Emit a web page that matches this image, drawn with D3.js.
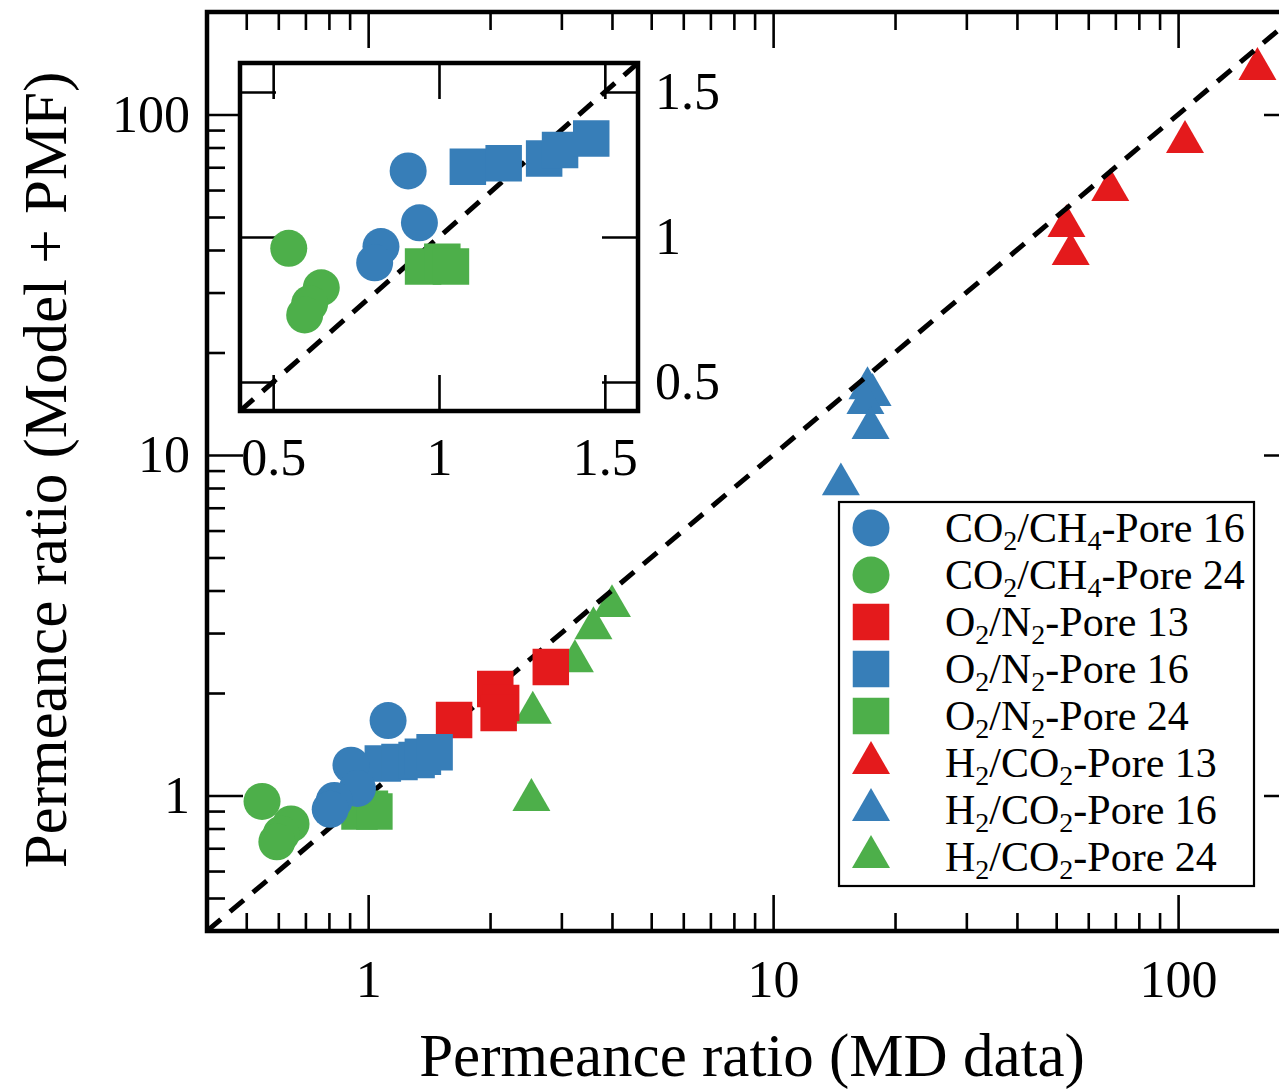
<!DOCTYPE html>
<html><head><meta charset="utf-8">
<script src="https://cdn.jsdelivr.net/npm/d3@7"></script>
<style>html,body{margin:0;padding:0;background:#fff;overflow:hidden}</style>
</head><body>
<svg id="chart" width="1279" height="1090"></svg>
<script>
// ---------- data ----------
const seriesNames = [
  "CO_2/CH_4-Pore 16", "CO_2/CH_4-Pore 24",
  "O_2/N_2-Pore 13", "O_2/N_2-Pore 16", "O_2/N_2-Pore 24",
  "H_2/CO_2-Pore 13", "H_2/CO_2-Pore 16", "H_2/CO_2-Pore 24"
];
const seriesShapes = ["circle","circle","square","square","square","triangle","triangle","triangle"];
const seriesColors = ["#377eb8","#4daf4a","#e41a1c","#377eb8","#4daf4a","#e41a1c","#377eb8","#4daf4a"];

// [MD data, Model + PMF]
const co2ch4Pore16 = [[0.907,1.228],[0.941,1.049],[0.825,0.967],[0.806,0.911],[1.12,1.66]];
const co2ch4Pore24 = [[0.547,0.961],[0.645,0.825],[0.61,0.77],[0.595,0.731]];
const o2n2Pore13   = [[1.63,1.665],[2.06,2.054],[2.13,1.868],[2.10,1.746],[2.825,2.384]];
const o2n2Pore16   = [[1.087,1.242],[1.195,1.254],[1.317,1.271],[1.365,1.30],[1.459,1.34]];
const o2n2Pore24   = [[0.952,0.898],[1.01,0.915],[1.036,0.898]];
const h2co2Pore13  = [[157,136],[104,83],[68,60],[53,47],[54.3,38.9]];
const h2co2Pore16  = [[17.1,15.7],[17.6,15.0],[16.9,14.2],[17.4,12.0],[14.7,8.2]];
const h2co2Pore24  = [[4.0,3.6],[3.6,3.1],[3.24,2.48],[2.55,1.75],[2.53,0.97]];
const seriesData = [co2ch4Pore16, co2ch4Pore24, o2n2Pore13, o2n2Pore16, o2n2Pore24, h2co2Pore13, h2co2Pore16, h2co2Pore24];

const mainDomain = [0.4, 200];
const mainMajorTicks = [1, 10, 100];
const mainTickLabels = ["1", "10", "100"];
const insetDomain = [0.4, 1.6];
const insetTicks = [0.5, 1, 1.5];
const insetTickLabels = ["0.5", "1", "1.5"];
const xTitle = "Permeance ratio (MD data)";
const yTitle = "Permeance ratio (Model + PMF)";

// ---------- setup ----------
const FONT = "'Liberation Serif','Times New Roman',Times,serif";
const svg = d3.select("#chart").style("font-family", FONT);

const x = d3.scaleLog().domain(mainDomain).range([207, 1300]);
const y = d3.scaleLog().domain(mainDomain).range([931, 12]);

const minorTicks = [];
[0.1, 1, 10, 100].forEach(d => { for (let k = 2; k <= 9; k++) { const v = d * k; if (v > mainDomain[0] && v < mainDomain[1]) minorTicks.push(+v.toPrecision(3)); } });

const defs = svg.append("defs");
defs.append("clipPath").attr("id","mainClip").append("rect")
  .attr("x", 207).attr("y", 12).attr("width", 1300-207).attr("height", 931-12);

function styleAxis(g) {
  g.select(".domain").remove();
  g.selectAll(".tick line").attr("stroke", "#000").attr("stroke-width", 2.6);
  g.selectAll("text").attr("font-family", FONT).attr("fill", "#000");
}

// main axes ticks (inward on all four sides)
const LMAJ = 36, LMIN = 18;
const fmtMain = v => mainTickLabels[mainMajorTicks.indexOf(v)];
svg.append("g").attr("transform","translate(0,931)")
  .call(d3.axisBottom(x).tickValues(mainMajorTicks).tickSize(-LMAJ).tickPadding(29).tickFormat(fmtMain))
  .call(styleAxis).selectAll("text").attr("font-size", 52);
svg.append("g").attr("transform","translate(0,931)")
  .call(d3.axisBottom(x).tickValues(minorTicks).tickSize(-LMIN).tickFormat(""))
  .call(styleAxis);
svg.append("g").attr("transform","translate(0,12)")
  .call(d3.axisTop(x).tickValues(mainMajorTicks).tickSize(-LMAJ).tickFormat(""))
  .call(styleAxis);
svg.append("g").attr("transform","translate(0,12)")
  .call(d3.axisTop(x).tickValues(minorTicks).tickSize(-LMIN).tickFormat(""))
  .call(styleAxis);
svg.append("g").attr("transform","translate(207,0)")
  .call(d3.axisLeft(y).tickValues(mainMajorTicks).tickSize(-LMAJ).tickPadding(17).tickFormat(fmtMain))
  .call(styleAxis).selectAll("text").attr("font-size", 52);
svg.append("g").attr("transform","translate(207,0)")
  .call(d3.axisLeft(y).tickValues(minorTicks).tickSize(-LMIN).tickFormat(""))
  .call(styleAxis);
svg.append("g").attr("transform","translate(1300,0)")
  .call(d3.axisRight(y).tickValues(mainMajorTicks).tickSize(-LMAJ).tickFormat(""))
  .call(styleAxis);
svg.append("g").attr("transform","translate(1300,0)")
  .call(d3.axisRight(y).tickValues(minorTicks).tickSize(-LMIN).tickFormat(""))
  .call(styleAxis);

// symbol helpers
const symType = {circle: d3.symbolCircle, square: d3.symbolSquare, triangle: d3.symbolTriangle};
const symSize = {circle: Math.PI * 18.5 * 18.5, square: 36.5 * 36.5, triangle: Math.sqrt(3) / 4 * 38 * 38};
const sym = s => d3.symbol().type(symType[s]).size(symSize[s])();

// draw order: triangles, dashed line, squares, circles
const triIdx = [5,6,7], sqIdx = [2,3,4], cirIdx = [0,1];

function drawSeries(layer, idxs, sx, sy) {
  idxs.forEach(i => {
    layer.append("g").selectAll("path").data(seriesData[i]).join("path")
      .attr("d", sym(seriesShapes[i]))
      .attr("fill", seriesColors[i])
      .attr("transform", d => `translate(${sx(d[0])},${sy(d[1])})`);
  });
}
function drawDiag(layer, sx, sy, dom) {
  layer.append("path")
    .datum(dom)
    .attr("d", d3.line().x(d => sx(d)).y(d => sy(d)))
    .attr("fill", "none").attr("stroke", "#000").attr("stroke-width", 5)
    .attr("stroke-dasharray", "18,12");
}

const plot = svg.append("g").attr("clip-path", "url(#mainClip)");
drawSeries(plot, triIdx, x, y);
drawDiag(plot, x, y, mainDomain);
drawSeries(plot, sqIdx, x, y);
drawSeries(plot, cirIdx, x, y);

// main frame
svg.append("rect").attr("x", 207).attr("y", 12).attr("width", 1300-207).attr("height", 931-12)
  .attr("fill", "none").attr("stroke", "#000").attr("stroke-width", 4.5);

// ---------- inset ----------
const xi = d3.scaleLinear().domain(insetDomain).range([240, 638]);
const yi = d3.scaleLinear().domain(insetDomain).range([411, 63]);
defs.append("clipPath").attr("id","insetClip").append("rect")
  .attr("x", 240).attr("y", 63).attr("width", 398).attr("height", 348);
svg.append("rect").attr("x", 240).attr("y", 63).attr("width", 398).attr("height", 348).attr("fill", "#fff");

const fmtIn = v => insetTickLabels[insetTicks.indexOf(v)];
svg.append("g").attr("transform","translate(0,411)")
  .call(d3.axisBottom(xi).tickValues(insetTicks).tickSize(-36).tickPadding(27).tickFormat(fmtIn))
  .call(styleAxis).selectAll("text").attr("font-size", 52);
svg.append("g").attr("transform","translate(0,63)")
  .call(d3.axisTop(xi).tickValues(insetTicks).tickSize(-36).tickFormat(""))
  .call(styleAxis);
svg.append("g").attr("transform","translate(240,0)")
  .call(d3.axisLeft(yi).tickValues(insetTicks).tickSize(-36).tickFormat(""))
  .call(styleAxis);
svg.append("g").attr("transform","translate(638,0)")
  .call(d3.axisRight(yi).tickValues(insetTicks).tickSize(-36).tickPadding(17).tickFormat(fmtIn))
  .call(styleAxis).selectAll("text").attr("font-size", 52);

const inset = svg.append("g").attr("clip-path", "url(#insetClip)");
drawSeries(inset, triIdx, xi, yi);
drawDiag(inset, xi, yi, insetDomain);
drawSeries(inset, sqIdx, xi, yi);
drawSeries(inset, cirIdx, xi, yi);

svg.append("rect").attr("x", 240).attr("y", 63).attr("width", 398).attr("height", 348)
  .attr("fill", "none").attr("stroke", "#000").attr("stroke-width", 4.5);

// ---------- titles ----------
svg.append("text").attr("x", 752).attr("y", 1076).attr("text-anchor", "middle")
  .attr("font-size", 61).attr("fill", "#000").text(xTitle);
svg.append("text").attr("transform", "translate(66,470) rotate(-90)").attr("text-anchor", "middle")
  .attr("font-size", 61).attr("fill", "#000").text(yTitle);

// ---------- legend ----------
const leg = svg.append("g");
leg.append("rect").attr("x", 839).attr("y", 502).attr("width", 415).attr("height", 384)
  .attr("fill", "#fff").attr("stroke", "#000").attr("stroke-width", 2.2);
const FS = 42, SUB = 28, SHIFT = 8;
seriesNames.forEach((name, i) => {
  const cy = 528 + 47 * i;
  leg.append("path").attr("d", sym(seriesShapes[i])).attr("fill", seriesColors[i])
    .attr("transform", `translate(871,${cy})`);
  const t = leg.append("text").attr("x", 945).attr("y", cy + 14).attr("font-size", FS).attr("fill", "#000");
  const parts = name.split(/_(\d)/);
  let shifted = false;
  parts.forEach((p, k) => {
    if (p === "") return;
    if (k % 2 === 1) {
      t.append("tspan").attr("font-size", SUB).attr("dy", SHIFT).text(p);
      shifted = true;
    } else {
      t.append("tspan").attr("font-size", FS).attr("dy", shifted ? -SHIFT : 0).text(p);
      shifted = false;
    }
  });
});
</script>
</body></html>
